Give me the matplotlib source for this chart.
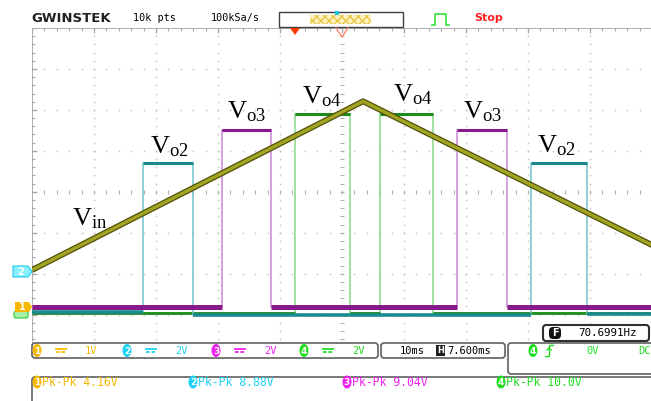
import numpy as np
import matplotlib.pyplot as plt
from matplotlib.patches import Rectangle, FancyBboxPatch, Polygon, Ellipse

plt.rcParams['mathtext.fontset'] = 'custom'
plt.rcParams['mathtext.rm'] = 'Liberation Serif'
plt.rcParams['mathtext.it'] = 'Liberation Serif:italic'

W, H = 651, 401
MONO = 'DejaVu Sans Mono'

# scope setup: 10 div x 8 div, 10 ms/div
ch_colors = ['#f5b800', '#1ed2f5', '#f020f0', '#22dd22']
volts_per_div = [1.0, 2.0, 2.0, 2.0]
ground_div = [-2.84, -1.93, -2.81, -2.96]

# CH1: triangle input (ms, V)
vin_t = [0.0, 53.4, 100.0]
vin_v = [0.93, 5.05, 1.54]

# CH2..CH4: comparator outputs, edges in ms (rise, fall, rise, fall)
vo2_edges = [17.9, 26.0, 80.5, 89.5]
vo2_high = 5.27
vo2_low = [-2.0, -2.15, -2.1]

vo3_edges = [30.6, 38.5, 68.5, 76.6]
vo3_high = 8.64
vo3_low = [0.0, 0.0, 0.0]

vo4_edges = [42.4, 51.3, 56.1, 64.7]
vo4_high = 9.72
vo4_low = [0.0, 0.0, 0.0]

# readouts
ch_volt_text = ['1V', '2V', '2V', '2V']
pkpk_text = ['4.16V', '8.88V', '9.04V', '10.0V']
timebase_text = '10ms'
hpos_text = '7.600ms'
freq_text = '70.6991Hz'

trace_labels = [r'$\mathrm{V_{in}}$', r'$\mathrm{V_{o2}}$', r'$\mathrm{V_{o3}}$', r'$\mathrm{V_{o4}}$',
                r'$\mathrm{V_{o4}}$', r'$\mathrm{V_{o3}}$', r'$\mathrm{V_{o2}}$']


def to_div(v, ch):
    return ground_div[ch] + np.asarray(v, dtype=float) / volts_per_div[ch]


def pulse_train(edges, high, lows):
    t = [0.0]
    v = [lows[0]]
    for i in range(0, len(edges), 2):
        r, f = edges[i], edges[i + 1]
        t += [r, r, f, f]
        v += [lows[i // 2], high, high, lows[i // 2 + 1]]
    t.append(100.0)
    v.append(lows[-1])
    return t, v


def draw_pulses(ax, ch, edges, high, lows, edge_col, level_col, low_lw, z):
    t, v = pulse_train(edges, high, lows)
    ax.plot(t, to_div(v, ch), color=edge_col, lw=1.1, zorder=z)
    # flat parts are drawn heavier, like a dense scope trace
    starts = [0.0] + edges[1::2]
    ends = edges[0::2] + [100.0]
    for lo, a, b in zip(lows, starts, ends):
        ax.hlines(to_div(lo, ch), a, b, colors=level_col, lw=low_lw, zorder=z + 0.1)
    for a, b in zip(edges[0::2], edges[1::2]):
        ax.hlines(to_div(high, ch), a, b, colors=level_col, lw=2.2, zorder=z + 0.1)


def draw_grid(ax):
    g = '#c4c4c4'
    ys = np.arange(-4, 4.001, 0.2)
    xs = np.arange(0, 100.1, 2.0)
    for k in range(1, 10):
        if k == 5:
            continue
        ax.plot(np.full_like(ys, 10 * k), ys, ls='none', marker='s', ms=1.1, mew=0, color=g)
    for k in range(-3, 4):
        if k == 0:
            continue
        ax.plot(xs, np.full_like(xs, k), ls='none', marker='s', ms=1.1, mew=0, color=g)
    ax.plot(np.full_like(ys, 50), ys, ls='none', marker='_', ms=3, mew=0.8, color='#b0b0b0')
    ax.plot(xs, np.zeros_like(xs), ls='none', marker='|', ms=3, mew=0.8, color='#b0b0b0')
    ax.axvline(0, color='#a8a8a8', lw=1.3)
    ax.axhline(4, color='#a8a8a8', lw=1.3)
    ax.plot(np.zeros_like(ys), ys, ls='none', marker='_', ms=4, mew=0.8, color='#a8a8a8')
    ax.plot(xs, np.full_like(xs, 4), ls='none', marker='|', ms=4, mew=0.8, color='#a8a8a8')
    big = np.arange(-4, 4.001, 1.0)
    ax.plot(np.zeros_like(big), big, ls='none', marker='_', ms=7, mew=0.9, color='#a8a8a8')
    bigx = np.arange(0, 100.1, 10.0)
    ax.plot(bigx, np.full_like(bigx, 4), ls='none', marker='|', ms=7, mew=0.9, color='#a8a8a8')


def badge(ui, x, y, num, color, fs=6.5):
    ui.add_patch(Ellipse((x, y), 9, 13, fc=color, ec='none'))
    ui.text(x, y + 0.5, num, color='white', fontsize=fs, weight='bold',
            ha='center', va='center', family='DejaVu Sans')


def rbox(ui, x0, y0, x1, y1, ec='#606060', lw=1.2):
    ui.add_patch(FancyBboxPatch((x0, y0), x1 - x0, y1 - y0,
                                boxstyle='round,pad=0,rounding_size=3',
                                fc='white', ec=ec, lw=lw))


def draw_ui(ui):
    # header
    ui.text(31, 18, 'GWINSTEK', fontsize=9.5, weight='bold', family='DejaVu Sans',
            color='#202020', va='center', ha='left')
    ui.text(133, 18, '10k pts', fontsize=7.3, family=MONO, va='center')
    ui.text(211, 18, '100kSa/s', fontsize=7.3, family=MONO, va='center')
    ui.add_patch(Rectangle((279, 12), 124, 15, fc='white', ec='#404040', lw=1))
    ui.add_patch(Rectangle((310, 15), 61, 9, fc='#fff4c0', ec='#e8c848', lw=0, hatch='xxxx'))
    ui.add_patch(Rectangle((335, 11), 4, 4, fc='#10c8d8', ec='none'))
    ui.plot([432, 435, 435, 446, 446, 449], [25, 25, 14, 14, 25, 25], color='#38e038', lw=1.2)
    ui.text(474, 18, 'Stop', fontsize=8, weight='bold', color='#ff2020', va='center',
            family='DejaVu Sans')
    ui.add_patch(Polygon([(290, 28), (300, 28), (295, 35)], closed=True, fc='#ff3a00', ec='none'))
    ui.plot([336, 342, 348], [28, 37, 28], color='#ff8a70', lw=1)

    # ground markers
    ui.add_patch(FancyBboxPatch((14, 311), 14, 7, boxstyle='round,pad=0,rounding_size=2',
                                fc='#a8f0a8', ec='#30d030', lw=0.8))
    ui.add_patch(Polygon([(13, 266), (28, 266), (32, 271.5), (28, 277), (13, 277)],
                         closed=True, fc='#8af0ff', ec='#20c8f0', lw=0.8))
    ui.text(21, 271.8, '2', color='white', fontsize=7, weight='bold', ha='center', va='center')
    ui.add_patch(Polygon([(15, 302), (29, 302), (32, 307), (29, 312), (15, 312)],
                         closed=True, fc='#f8b800', ec='none'))
    ui.text(22, 307.3, '1', color='white', fontsize=7, weight='bold', ha='center', va='center')

    # frequency counter
    rbox(ui, 543, 325, 649, 341, ec='#303030', lw=1.5)
    ui.add_patch(FancyBboxPatch((549, 327), 12, 12, boxstyle='round,pad=0,rounding_size=4',
                                fc='#101010', ec='none'))
    ui.text(555, 333.5, 'F', color='white', fontsize=7, weight='bold', ha='center', va='center')
    ui.text(578, 333.5, freq_text, fontsize=7.8, family=MONO, va='center')

    # channel bar
    rbox(ui, 32, 343, 378, 358)
    bx = [37, 127, 216, 304]
    for i in range(4):
        c = ch_colors[i]
        badge(ui, bx[i], 350.5, str(i + 1), c)
        x = bx[i] + 19
        ui.plot([x, x + 10], [349, 349], color=c, lw=1.3)
        ui.plot([x, x + 10], [352, 352], color=c, lw=1.3, dashes=(2, 1))
        ui.text(bx[i] + 48, 350.5, ch_volt_text[i], color=c, fontsize=7.5, family=MONO, va='center')

    rbox(ui, 381, 343, 505, 358)
    ui.text(400, 350.5, timebase_text, fontsize=7.5, family=MONO, va='center')
    ui.add_patch(Rectangle((436, 345), 9, 11, fc='#202020', ec='none'))
    ui.text(440.5, 350.5, 'H', color='white', fontsize=6, weight='bold', ha='center', va='center')
    ui.text(447, 350.5, hpos_text, fontsize=7.5, family=MONO, va='center')

    rbox(ui, 508, 343, 660, 374)
    badge(ui, 533, 350.5, '4', ch_colors[3])
    ui.plot([545, 549, 549, 553], [356, 356, 345, 345], color=ch_colors[3], lw=1)
    ui.plot([547, 549, 551], [350, 348, 350], color=ch_colors[3], lw=1)
    ui.text(586, 350.5, '0V', color=ch_colors[3], fontsize=7.5, family=MONO, va='center')
    ui.text(638, 350.5, 'DC', color=ch_colors[3], fontsize=7.5, family=MONO, va='center')

    # measurements
    rbox(ui, 32, 377, 700, 420)
    mx = [37, 193, 347, 501]
    for i in range(4):
        c = ch_colors[i]
        badge(ui, mx[i], 382, str(i + 1), c)
        ui.text(mx[i] + 5, 382, 'Pk-Pk ' + pkpk_text[i], color=c, fontsize=8.3,
                family=MONO, va='center')

    # trace names
    pos = [(72, 225), (150, 153), (227, 118), (302, 103), (393, 101), (463, 118), (537, 152)]
    for s, (x, y) in zip(trace_labels, pos):
        ui.text(x, y, s, fontsize=19, color='black', ha='left', va='baseline')


def main():
    fig = plt.figure(figsize=(W / 100, H / 100), dpi=100)
    ax = fig.add_axes([32 / W, (H - 355.6) / H, 620 / W, 327.6 / H])
    ax.set_xlim(0, 100)
    ax.set_ylim(-4, 4)
    ax.axis('off')

    draw_grid(ax)

    draw_pulses(ax, 3, vo4_edges, vo4_high, vo4_low, '#88d888', '#1c8c1c', 2.0, 3)
    draw_pulses(ax, 1, vo2_edges, vo2_high, vo2_low, '#70c4cc', '#1a8a8e', 2.6, 4)
    draw_pulses(ax, 2, vo3_edges, vo3_high, vo3_low, '#cc88d4', '#861a8c', 3.6, 5)

    vy = to_div(vin_v, 0)
    ax.plot(vin_t, vy, color='#505008', lw=4.2, zorder=7, solid_capstyle='butt')
    ax.plot(vin_t, vy, color='#a4a424', lw=2.4, zorder=7.1, solid_capstyle='butt')

    ui = fig.add_axes([0, 0, 1, 1], zorder=5)
    ui.set_xlim(0, W)
    ui.set_ylim(H, 0)
    ui.axis('off')
    draw_ui(ui)

    fig.savefig('out.png', dpi=100)


if __name__ == '__main__':
    main()
